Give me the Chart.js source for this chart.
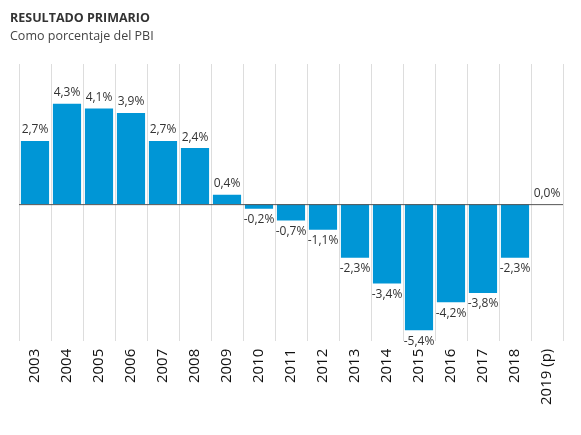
<!DOCTYPE html>
<html><head><meta charset="utf-8">
<script src="https://cdn.jsdelivr.net/npm/chart.js@4"></script>
<style>body{margin:0;background:#fff;font-family:"Open Sans";}
#t{position:absolute;left:10px;top:9px;font-size:12.5px;font-weight:bold;color:#333;}
#s{position:absolute;left:10px;top:27px;font-size:12.5px;color:#444;}
#w{position:absolute;left:0;top:0;width:581px;height:435px;}</style>
</head><body>
<div id="w"><canvas id="c"></canvas></div>
<div id="t">RESULTADO PRIMARIO</div><div id="s">Como porcentaje del PBI</div>
<script>
const categories=["2003","2004","2005","2006","2007","2008","2009","2010","2011","2012","2013","2014","2015","2016","2017","2018","2019 (p)"];
const values=[2.7,4.3,4.1,3.9,2.7,2.4,0.4,-0.2,-0.7,-1.1,-2.3,-3.4,-5.4,-4.2,-3.8,-2.3,0.0];
const fmt=v=>v.toFixed(1).replace('.',',')+'%';
const lbl={id:'lbl',afterDatasetsDraw(ch){const c=ch.ctx;const m=ch.getDatasetMeta(0);c.save();c.font='12px "Open Sans"';c.fillStyle='#333';c.textAlign='center';
m.data.forEach((b,i)=>{const v=values[i];if(v>=0){c.textBaseline='bottom';c.fillText(fmt(v),b.x,b.y-5);}else{c.textBaseline='top';c.fillText(fmt(v),b.x,b.y+5);}});
const y=ch.scales.y.getPixelForValue(0);c.strokeStyle='#555';c.lineWidth=1;c.beginPath();c.moveTo(ch.chartArea.left,y+0.5);c.lineTo(ch.chartArea.right,y+0.5);c.stroke();c.restore();}};
new Chart(document.getElementById('c'),{type:'bar',data:{labels:categories,datasets:[{data:values,backgroundColor:'#0096d6',barPercentage:0.88,categoryPercentage:1}]},
options:{responsive:true,maintainAspectRatio:false,animation:false,layout:{padding:{left:19,right:18,top:64,bottom:22}},
plugins:{legend:{display:false},tooltip:{enabled:false}},
scales:{y:{min:-5.85,max:6,display:false},x:{grid:{color:'#ddd',offset:true,drawTicks:false},border:{display:false},ticks:{color:'#111',font:{size:15,family:'"Open Sans"'},minRotation:90,maxRotation:90,padding:8}}}},plugins:[lbl]});
</script></body></html>
